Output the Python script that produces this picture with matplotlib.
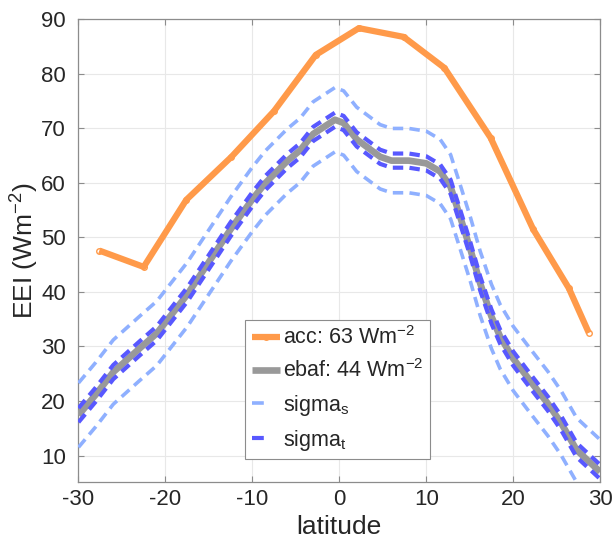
import matplotlib
matplotlib.use('Agg')
import matplotlib.pyplot as plt
from matplotlib.lines import Line2D
import numpy as np

# ---- data ----
lat_acc = [-27.6, -22.5, -17.6, -12.4, -7.5, -2.7, 2.25, 7.4, 12.1, 17.4, 22.3, 26.4, 28.7]
acc = [47.6, 44.6, 56.9, 64.8, 73.2, 83.5, 88.4, 86.8, 81.1, 68.3, 51.5, 40.7, 32.5]

lat_ebaf = [-30, -28, -26, -23, -21, -17.5, -15, -12.5, -10, -8.5, -6, -4.5, -3,
            -0.5, 0.5, 2, 4.7, 6, 8, 10, 11.6, 12.8, 13.9, 15.1, 16.2, 17.5,
            18.5, 20, 22, 24, 25.5, 27.3, 30]
ebaf = [17.4, 21.2, 25.3, 29.6, 32.4, 39.5, 45.5, 51.5, 57.0, 60.0, 64.0, 66.0, 69.0,
        71.6, 71.0, 68.0, 64.8, 64.1, 64.1, 63.6, 62.1, 59.3, 53.8, 47.7, 41.6, 35.5,
        31.8, 27.8, 23.6, 19.5, 16.0, 11.0, 7.0]

sigma_s = 5.9
sigma_t = 1.3

xticks = [-30, -20, -10, 0, 10, 20, 30]
yticks = [10, 20, 30, 40, 50, 60, 70, 80, 90]

labels = ['acc: 63 Wm$^{-2}$', 'ebaf: 44 Wm$^{-2}$', 'sigma$_s$', 'sigma$_t$']

# ---- style ----
plt.rcParams['font.family'] = ['Liberation Sans', 'DejaVu Sans']
plt.rcParams['mathtext.fontset'] = 'custom'
plt.rcParams['mathtext.rm'] = 'Liberation Sans'
plt.rcParams['mathtext.it'] = 'Liberation Sans'
plt.rcParams['mathtext.bf'] = 'Liberation Sans'
plt.rcParams['mathtext.sf'] = 'Liberation Sans'
plt.rcParams['lines.scale_dashes'] = False

c_acc = '#ff9a4a'
c_ebaf = '#999999'
c_ss = '#8fb0ff'
c_st = '#5858ff'
c_txt = '#262626'

fig = plt.figure(figsize=(6.13, 5.4), dpi=100)
ax = fig.add_axes([0.128, 0.108, 0.851, 0.856])

e = np.array(ebaf)
ax.plot(lat_acc, acc, color=c_acc, lw=4.5, marker='o', ms=4, mfc='none',
        mec=c_acc, mew=1.0, solid_capstyle='butt', zorder=3)
ax.plot(lat_ebaf, e, color=c_ebaf, lw=4.8, solid_capstyle='butt', zorder=3)
for sgn in (1, -1):
    ax.plot(lat_ebaf, e + sgn * sigma_s, color=c_ss, lw=2.6, dashes=(7.5, 4.5),
            dash_capstyle='butt', zorder=4)
for sgn in (1, -1):
    ax.plot(lat_ebaf, e + sgn * sigma_t, color=c_st, lw=3.0, dashes=(7.5, 4.5),
            dash_capstyle='butt', zorder=4)

ax.set_xlim(-30, 30)
ax.set_ylim(5.2, 90)
ax.set_xticks(xticks)
ax.set_yticks(yticks)
ax.set_xticklabels([str(t) for t in xticks])
ax.set_yticklabels([str(t) for t in yticks])

ax.grid(True, color='#e8e8e8', lw=0.8)
ax.set_axisbelow(True)
for sp in ax.spines.values():
    sp.set_color('#8c8c8c')
    sp.set_linewidth(0.9)
ax.tick_params(direction='in', length=4, width=0.8, color='#8c8c8c',
               labelsize=16, labelcolor=c_txt, top=True, right=True)
ax.tick_params(axis='x', pad=5)
ax.tick_params(axis='y', pad=9)

ax.set_xlabel('latitude', fontsize=19, color=c_txt, labelpad=4)
ax.set_ylabel('EEI (Wm$^{-2}$)', fontsize=19, color=c_txt, labelpad=0)

handles = [
    Line2D([], [], color=c_acc, lw=4.5, marker='o', ms=4, mfc='none', mec=c_acc,
           solid_capstyle='butt'),
    Line2D([], [], color=c_ebaf, lw=4.8, solid_capstyle='butt'),
    Line2D([], [], color=c_ss, lw=2.6, dash_capstyle='butt'),
    Line2D([], [], color=c_st, lw=3.0, dash_capstyle='butt'),
]
for h in handles[2:]:
    h.set_linestyle((0, (8.5, 40)))
leg = ax.legend(handles, labels, loc='lower left', bbox_to_anchor=(0.32, 0.048),
                fontsize=15.5, frameon=True, fancybox=False, edgecolor='#8c8c8c',
                framealpha=1, handlelength=1.3, handletextpad=0.15,
                borderpad=0.3, labelspacing=0.48, borderaxespad=0)
leg.get_frame().set_linewidth(0.8)
for t in leg.get_texts():
    t.set_color(c_txt)

fig.savefig('out.png', dpi=100)
